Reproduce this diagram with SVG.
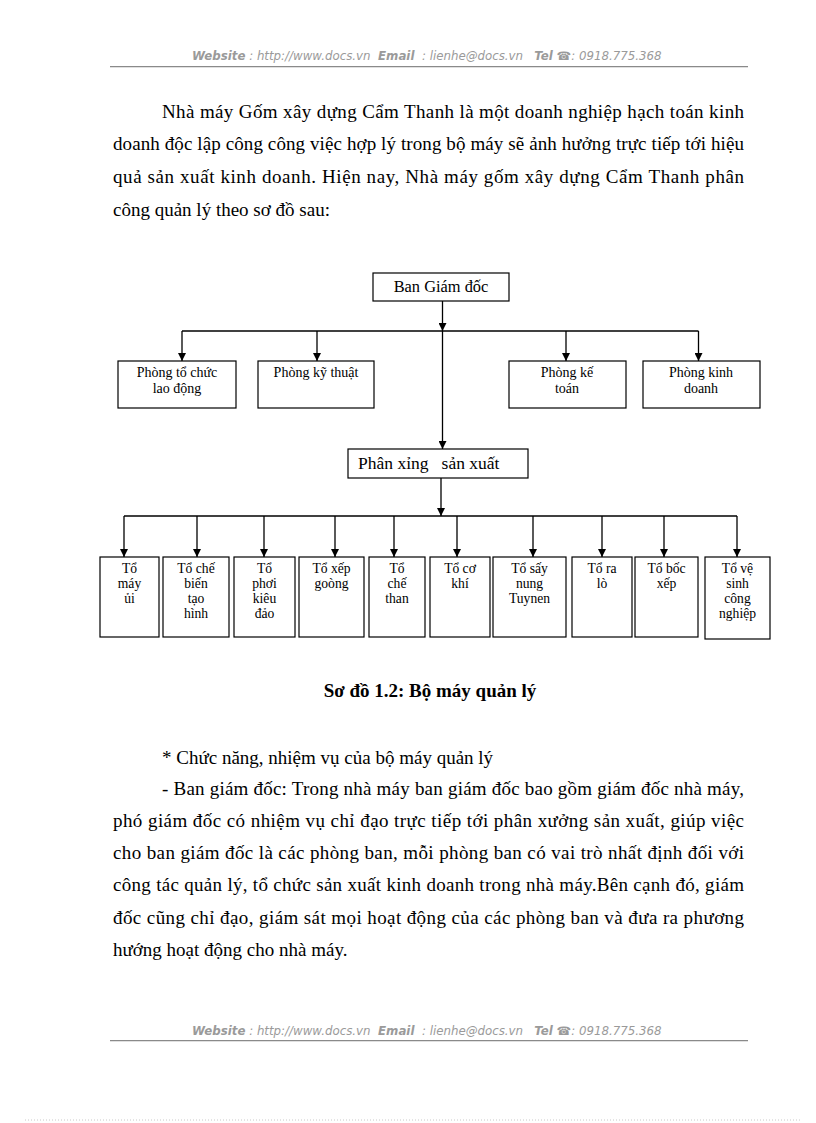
<svg xmlns="http://www.w3.org/2000/svg" width="816" height="1123" viewBox="0 0 816 1123">
<style>
.hdr{font-family:"DejaVu Sans","Liberation Sans",sans-serif;font-style:italic;font-size:11.8px;fill:#9a9a9a}
.hdr .b{font-weight:bold}
.body{font-family:"Liberation Serif","Times New Roman",serif;font-size:19px;fill:#000}
.cap{font-family:"Liberation Serif","Times New Roman",serif;font-size:19px;font-weight:bold;fill:#000}
.box{fill:#fff;stroke:#000;stroke-width:1.2}
.lbl{font-family:"Liberation Serif","Times New Roman",serif;font-size:14px;fill:#000;text-anchor:middle}
.lbs{font-family:"Liberation Serif","Times New Roman",serif;font-size:13.6px;fill:#000;text-anchor:middle}
.lbl16{font-family:"Liberation Serif","Times New Roman",serif;font-size:16.4px;fill:#000;text-anchor:middle}
.lbl17{font-family:"Liberation Serif","Times New Roman",serif;font-size:17.5px;fill:#000}
.conn line{stroke:#000;stroke-width:1.3}
.arr{marker-end:url(#ah)}
</style>
<defs>
<marker id="ah" viewBox="0 0 8 8" refX="8" refY="4" markerWidth="8" markerHeight="8" markerUnits="userSpaceOnUse" orient="auto">
<path d="M0,0 L8,4 L0,8 z" fill="#000"/>
</marker>
</defs>
<rect width="816" height="1123" fill="#fff"/>

<!-- header -->
<g id="header">
<text class="hdr" x="192" y="60" xml:space="preserve"><tspan class="b">Website</tspan> : http://www.docs.vn  <tspan class="b">Email</tspan>  : lienhe@docs.vn   <tspan class="b">Tel</tspan> ☎: 0918.775.368</text>
<line x1="110" y1="66.5" x2="748" y2="66.5" stroke="#8a8a8a" stroke-width="1"/>
<line x1="110" y1="67.5" x2="748" y2="67.5" stroke="#e0e0e0" stroke-width="1"/>
</g>

<!-- top paragraph -->
<g id="para1" class="body">
<text x="162" y="117.5" textLength="582" lengthAdjust="spacing">Nhà máy Gốm xây dựng Cẩm Thanh là một doanh nghiệp hạch toán kinh</text>
<text x="113" y="150" textLength="631" lengthAdjust="spacing">doanh độc lập công công việc hợp lý trong bộ máy sẽ ảnh hưởng trực tiếp tới hiệu</text>
<text x="113" y="183" textLength="631" lengthAdjust="spacing">quả sản xuất kinh  doanh. Hiện nay, Nhà máy gốm xây dựng Cẩm Thanh phân</text>
<text x="113" y="215.5">công quản lý theo sơ đồ sau:</text>
</g>

<!-- connectors -->
<g id="connectors" class="conn">
<line class="arr" x1="442.5" y1="301" x2="442.5" y2="331"/>
<line x1="182" y1="331" x2="698.5" y2="331"/>
<line class="arr" x1="182" y1="331" x2="182" y2="361"/>
<line class="arr" x1="317" y1="331" x2="317" y2="361"/>
<line class="arr" x1="566" y1="331" x2="566" y2="361"/>
<line class="arr" x1="698.5" y1="331" x2="698.5" y2="361"/>
<line class="arr" x1="442.5" y1="331" x2="442.5" y2="449"/>
<line class="arr" x1="441" y1="478" x2="441" y2="516"/>
<line x1="124" y1="516" x2="737" y2="516"/>
<line class="arr" x1="124" y1="516" x2="124" y2="557"/>
<line class="arr" x1="197" y1="516" x2="197" y2="557"/>
<line class="arr" x1="264" y1="516" x2="264" y2="557"/>
<line class="arr" x1="335" y1="516" x2="335" y2="557"/>
<line class="arr" x1="394" y1="516" x2="394" y2="557"/>
<line class="arr" x1="457" y1="516" x2="457" y2="557"/>
<line class="arr" x1="533" y1="516" x2="533" y2="557"/>
<line class="arr" x1="602" y1="516" x2="602" y2="557"/>
<line class="arr" x1="664" y1="516" x2="664" y2="557"/>
<line class="arr" x1="737" y1="516" x2="737" y2="557"/>
</g>

<!-- nodes -->
<g id="ban-giam-doc">
<rect class="box" x="373" y="273" width="136" height="28"/>
<text class="lbl16" x="441" y="292">Ban Giám đốc</text>
</g>
<g id="phong-to-chuc">
<rect class="box" x="118" y="361" width="118" height="47"/>
<text class="lbl" x="177" y="377">Phòng tổ chức</text>
<text class="lbl" x="177" y="392.5">lao động</text>
</g>
<g id="phong-ky-thuat">
<rect class="box" x="258" y="361" width="116" height="47"/>
<text class="lbl" x="316" y="377">Phòng kỹ thuật</text>
</g>
<g id="phong-ke-toan">
<rect class="box" x="509" y="361" width="117" height="47"/>
<text class="lbl" x="567" y="377">Phòng kế</text>
<text class="lbl" x="567" y="392.5">toán</text>
</g>
<g id="phong-kinh-doanh">
<rect class="box" x="643" y="361" width="117" height="47"/>
<text class="lbl" x="701" y="377">Phòng kinh</text>
<text class="lbl" x="701" y="392.5">doanh</text>
</g>
<g id="phan-xuong">
<rect class="box" x="348" y="449" width="180" height="29"/>
<text class="lbl17" x="358" y="469" xml:space="preserve">Phân xỉng   sản xuất</text>
</g>

<g id="to-may-ui">
<rect class="box" x="100" y="557" width="59" height="80"/>
<text class="lbs" x="129.5" y="572.5">Tổ</text>
<text class="lbs" x="129.5" y="587.5">máy</text>
<text class="lbs" x="129.5" y="602.5">ủi</text>
</g>
<g id="to-che-bien">
<rect class="box" x="163" y="557" width="66" height="80"/>
<text class="lbs" x="196" y="572.5">Tổ chế</text>
<text class="lbs" x="196" y="587.5">biến</text>
<text class="lbs" x="196" y="602.5">tạo</text>
<text class="lbs" x="196" y="617.5">hình</text>
</g>
<g id="to-phoi">
<rect class="box" x="234" y="557" width="61" height="80"/>
<text class="lbs" x="264.5" y="572.5">Tổ</text>
<text class="lbs" x="264.5" y="587.5">phơi</text>
<text class="lbs" x="264.5" y="602.5">kiêu</text>
<text class="lbs" x="264.5" y="617.5">đảo</text>
</g>
<g id="to-xep-goong">
<rect class="box" x="299" y="557" width="65" height="80"/>
<text class="lbs" x="331.5" y="572.5">Tổ xếp</text>
<text class="lbs" x="331.5" y="587.5">goòng</text>
</g>
<g id="to-che-than">
<rect class="box" x="369" y="557" width="56" height="80"/>
<text class="lbs" x="397" y="572.5">Tổ</text>
<text class="lbs" x="397" y="587.5">chế</text>
<text class="lbs" x="397" y="602.5">than</text>
</g>
<g id="to-co-khi">
<rect class="box" x="430" y="557" width="60" height="80"/>
<text class="lbs" x="460" y="572.5">Tổ cơ</text>
<text class="lbs" x="460" y="587.5">khí</text>
</g>
<g id="to-say-nung">
<rect class="box" x="493" y="557" width="73" height="80"/>
<text class="lbs" x="529.5" y="572.5">Tổ sấy</text>
<text class="lbs" x="529.5" y="587.5">nung</text>
<text class="lbs" x="529.5" y="602.5">Tuynen</text>
</g>
<g id="to-ra-lo">
<rect class="box" x="572" y="557" width="60" height="80"/>
<text class="lbs" x="602" y="572.5">Tổ ra</text>
<text class="lbs" x="602" y="587.5">lò</text>
</g>
<g id="to-boc-xep">
<rect class="box" x="635" y="557" width="63" height="80"/>
<text class="lbs" x="666.5" y="572.5">Tổ bốc</text>
<text class="lbs" x="666.5" y="587.5">xếp</text>
</g>
<g id="to-ve-sinh">
<rect class="box" x="705" y="557" width="65" height="82"/>
<text class="lbs" x="737.5" y="572.5">Tổ vệ</text>
<text class="lbs" x="737.5" y="587.5">sinh</text>
<text class="lbs" x="737.5" y="602.5">công</text>
<text class="lbs" x="737.5" y="617.5">nghiệp</text>
</g>

<!-- caption -->
<text class="cap" x="430" y="697" text-anchor="middle">Sơ đồ 1.2: Bộ máy quản lý</text>

<!-- bottom paragraph -->
<g id="para2" class="body">
<text x="162" y="763.5">* Chức năng, nhiệm  vụ  của bộ máy quản lý</text>
<text x="162" y="794.5" textLength="582" lengthAdjust="spacing">- Ban giám  đốc: Trong nhà máy ban giám  đốc bao gồm giám  đốc nhà máy,</text>
<text x="113" y="826.5" textLength="631" lengthAdjust="spacing">phó giám  đốc có nhiệm  vụ  chỉ đạo trực tiếp  tới phân xưởng sản xuất, giúp  việc</text>
<text x="113" y="859" textLength="631" lengthAdjust="spacing">cho ban giám  đốc là  các phòng ban, mỗi phòng ban có vai trò nhất định đối với</text>
<text x="113" y="891" textLength="631" lengthAdjust="spacing">công tác quản lý,  tổ chức sản xuất kinh  doanh trong nhà máy.Bên cạnh đó, giám</text>
<text x="113" y="923.5" textLength="631" lengthAdjust="spacing">đốc cũng chỉ đạo, giám  sát mọi hoạt  động của các phòng ban và  đưa ra phương</text>
<text x="113" y="956">hướng hoạt động cho nhà máy.</text>
</g>

<!-- footer -->
<g id="footer">
<text class="hdr" x="192" y="1035" xml:space="preserve"><tspan class="b">Website</tspan> : http://www.docs.vn  <tspan class="b">Email</tspan>  : lienhe@docs.vn   <tspan class="b">Tel</tspan> ☎: 0918.775.368</text>
<line x1="110" y1="1040.5" x2="748" y2="1040.5" stroke="#8a8a8a" stroke-width="1"/>
<line x1="110" y1="1041.5" x2="748" y2="1041.5" stroke="#e0e0e0" stroke-width="1"/>
</g>
<line x1="25" y1="1120" x2="800" y2="1120" stroke="#c8c8c8" stroke-width="1" stroke-dasharray="1,2"/>
</svg>
